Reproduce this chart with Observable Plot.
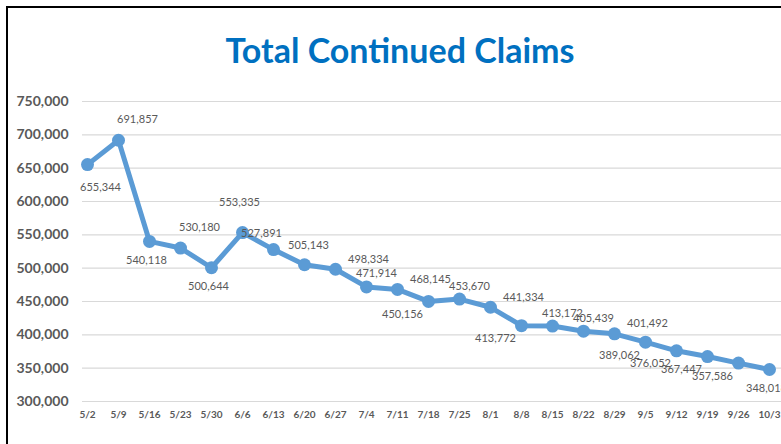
<!DOCTYPE html>
<html>
<head>
<meta charset="utf-8">
<script src="https://cdn.jsdelivr.net/npm/d3@7"></script>
<script src="https://cdn.jsdelivr.net/npm/@observablehq/plot@0.6"></script>
<style>
  html, body { margin: 0; padding: 0; background: #fff; width: 781px; height: 444px; overflow: hidden; }
  #frame { position: absolute; left: 6px; top: 6px; width: 820px; height: 480px; border-left: 2px solid #000; border-top: 2px solid #000; }
  #title { position: absolute; left: 0; top: 33px; width: 800px; text-align: center; font-family: Lato, sans-serif; font-weight: bold; font-size: 34px; color: #0070C0; line-height: 34px; white-space: nowrap; }
  #chart { position: absolute; left: 0; top: 90px; }
</style>
</head>
<body>
<div id="frame"></div>
<div id="title">Total Continued Claims</div>
<div id="chart"></div>
<script>
const weeks = ["5/2","5/9","5/16","5/23","5/30","6/6","6/13","6/20","6/27","7/4","7/11","7/18","7/25","8/1","8/8","8/15","8/22","8/29","9/5","9/12","9/19","9/26","10/3"];
const claims = [655344,691857,540118,530180,500644,553335,527891,505143,498334,471914,468145,450156,453670,441334,413772,413172,405439,401492,389062,376052,367447,357586,348018];
const yTicks = [300000,350000,400000,450000,500000,550000,600000,650000,700000,750000];
// data-label placement relative to its point (compass direction)
const labelPos = ["se","ne","s","ne","s","nn","nw","n","e","nne","e","sw","nne","e","sw","nne","nne","e","sw","sw","sw","sw","s"];

const data = weeks.map((w, i) => ({week: w, value: claims[i], pos: labelPos[i]}));
const offsets = {
  s: [-3, 19], se: [13, 23], n: [4, -19], nn: [-3, -30], ne: [19, -21],
  nne: [10, -13], nw: [-12, -16], e: [33, -10], sw: [-26, 13]
};
const fmt = d3.format(",");
const blue = "#5B9BD5";

const labelMarks = Object.entries(offsets).map(([k, [dx, dy]]) =>
  Plot.text(data.filter(d => d.pos === k), {
    x: "week", y: "value", text: d => fmt(d.value), dx, dy,
    fill: "#595959", fontSize: 11, fontWeight: "normal"
  })
);

const chart = Plot.plot({
  width: 781,
  height: 354,
  marginLeft: 82,
  marginRight: 0,
  marginTop: 11,
  marginBottom: 43,
  style: {fontFamily: "Lato, sans-serif", color: "#595959", background: "transparent", overflow: "hidden"},
  x: {type: "point", domain: weeks, padding: 0, insetLeft: 2, insetRight: 9},
  y: {domain: [300000, 750000]},
  marks: [
    Plot.ruleY(yTicks, {stroke: "#D9D9D9", strokeWidth: 1.2}),
    Plot.axisY({ticks: yTicks, tickFormat: fmt, tickSize: 0, tickPadding: 14, fontSize: 14, fontWeight: "bold", label: null}),
    Plot.axisX({tickSize: 0, tickPadding: 9, fontSize: 10, fontWeight: "bold", label: null}),
    Plot.line(data, {x: "week", y: "value", stroke: blue, strokeWidth: 5, strokeLinejoin: "round"}),
    Plot.dot(data, {x: "week", y: "value", r: 6.5, fill: blue, stroke: "none"}),
    ...labelMarks
  ]
});
document.getElementById("chart").appendChild(chart);
</script>
</body>
</html>
